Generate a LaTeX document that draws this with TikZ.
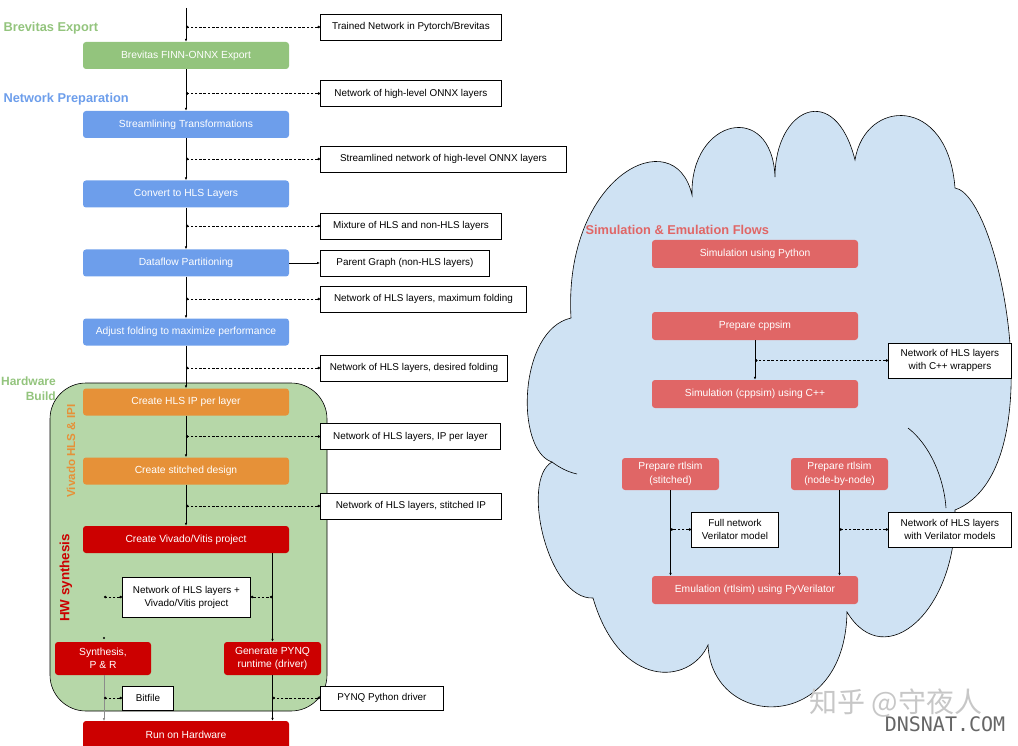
\documentclass[tikz,border=0pt]{standalone}
\usepackage{fontspec}
\setmainfont{Liberation Sans}
\newfontfamily\cjk{Noto Sans CJK SC}
\newfontfamily\wmfont{DejaVu Sans Mono}
\usetikzlibrary{arrows.meta}

\definecolor{expgreen}{HTML}{93C47D}
\definecolor{prepblue}{HTML}{6D9EEB}
\definecolor{hlsorange}{HTML}{E69138}
\definecolor{hwred}{HTML}{CC0000}
\definecolor{simred}{HTML}{E06666}
\definecolor{hwfill}{HTML}{B6D7A8}
\definecolor{cloudfill}{HTML}{CFE2F3}

\begin{document}
\begin{tikzpicture}[x=1pt, y=-1pt,
    stepbox/.style={rounded corners=3pt, text=white, inner sep=0pt,
        minimum width=206pt, minimum height=27pt, align=center,
        font=\fontsize{10.3}{13.5}\selectfont},
    note/.style={draw, fill=white, line width=0.9pt, inner sep=0pt,
        minimum height=26pt, align=center, font=\fontsize{9.9}{13}\selectfont},
    stage/.style={font=\bfseries\fontsize{12.8}{15}\selectfont},
    flow/.style={line width=0.7pt, -{Latex[length=3pt,width=2.6pt]}},
    link/.style={line width=0.6pt, dash pattern=on 2.5pt off 1.8pt,
        {Circle[length=2.6pt]}-{Circle[length=2.6pt]}}]
    \useasboundingbox (0,0) rectangle (1018,746);

    % hardware build area
    \draw[fill=hwfill, line width=0.6pt, rounded corners=36pt] (50,383) rectangle (327,711);

    % simulation cloud
    \draw[fill=cloudfill, line width=0.6pt]
        (571,318) .. controls (563,175) and (675,120) .. (692,195)
        .. controls (690,118) and (772,100) .. (775,177)
        .. controls (775,108) and (835,80) .. (855,160)
        .. controls (865,98) and (948,95) .. (955,188)
        .. controls (1000,195) and (1055,470) .. (955,510)
        .. controls (958,610) and (885,675) .. (847,612)
        .. controls (845,735) and (712,730) .. (708,645)
        .. controls (690,685) and (620,690) .. (593,598)
        .. controls (548,600) and (520,480) .. (552,462)
        .. controls (515,450) and (518,330) .. (571,318) -- cycle;
    \draw[line width=0.6pt] (908,428) .. controls (930,445) and (944,478) .. (946,508);
    \draw[line width=0.6pt] (552,462) .. controls (560,468) and (568,472) .. (577,474);

    % stage labels
    \node[stage, text=expgreen, anchor=west] (lexport) at (0,28) {Brevitas Export};
    \node[stage, text=prepblue, anchor=west] (lprep) at (0,99) {Network Preparation};
    \node[stage, text=expgreen, anchor=east, align=right, inner sep=0pt,
        font=\bfseries\fontsize{12}{15}\selectfont] (lbuild) at (56,389) {Hardware\\Build};
    \node[stage, text=hlsorange, rotate=90, font=\bfseries\fontsize{11.6}{14}\selectfont] (lhls) at (71,451) {Vivado HLS \& IPI};
    \node[stage, text=hwred, rotate=90, font=\bfseries\fontsize{13.4}{15}\selectfont] (lsynth) at (66,578) {HW synthesis};
    \node[stage, text=simred, anchor=west] (lsim) at (582,230) {Simulation \& Emulation Flows};

    % main flow
    \coordinate (start) at (186,8);
    \node[stepbox, fill=expgreen] (export) at (186,55.5) {Brevitas FINN-ONNX Export};
    \node[stepbox, fill=prepblue] (stream) at (186,124.5) {Streamlining Transformations};
    \node[stepbox, fill=prepblue] (tohls) at (186,194) {Convert to HLS Layers};
    \node[stepbox, fill=prepblue] (dataflow) at (186,263) {Dataflow Partitioning};
    \node[stepbox, fill=prepblue] (fold) at (186,332) {Adjust folding to maximize performance};
    \node[stepbox, fill=hlsorange] (hlsip) at (186,402) {Create HLS IP per layer};
    \node[stepbox, fill=hlsorange] (stitch) at (186,471) {Create stitched design};
    \node[stepbox, fill=hwred] (vivado) at (186,539.5) {Create Vivado/Vitis project};
    \node[stepbox, fill=hwred, minimum width=96pt, minimum height=33pt] (synth) at (103,658.5) {Synthesis,\\P \& R};
    \node[stepbox, fill=hwred, minimum width=97pt, minimum height=33pt] (pynq) at (272.5,658.5) {Generate PYNQ\\runtime (driver)};
    \node[stepbox, fill=hwred, minimum height=28pt] (run) at (186,735) {Run on Hardware};

    % intermediate networks
    \node[note, anchor=west, minimum width=181pt] (trained) at (320,27) {Trained Network in Pytorch/Brevitas};
    \node[note, anchor=west, minimum width=181pt] (onnx) at (320,93.5) {Network of high-level ONNX layers};
    \node[note, anchor=west, minimum width=246pt] (streamed) at (320,159) {Streamlined network of high-level ONNX layers};
    \node[note, anchor=west, minimum width=181pt] (mixture) at (320,226) {Mixture of HLS and non-HLS layers};
    \node[note, anchor=west, minimum width=169pt] (parent) at (320,263) {Parent Graph (non-HLS layers)};
    \node[note, anchor=west, minimum width=206pt] (maxfold) at (320,299) {Network of HLS layers, maximum folding};
    \node[note, anchor=west, minimum width=187pt] (desired) at (320,368) {Network of HLS layers, desired folding};
    \node[note, anchor=west, minimum width=180pt] (ipper) at (320,436.5) {Network of HLS layers, IP per layer};
    \node[note, anchor=west, minimum width=181pt] (stitchedip) at (320,506) {Network of HLS layers, stitched IP};
    \node[note, anchor=west, minimum width=128pt, minimum height=40pt] (vivproj) at (122,597) {Network of HLS layers +\\Vivado/Vitis project};
    \node[note, anchor=west, minimum width=51pt, minimum height=24pt] (bitfile) at (122,698) {Bitfile};
    \node[note, anchor=west, minimum width=123pt, minimum height=24pt] (pydriver) at (320,698) {PYNQ Python driver};

    \draw[flow] (start) -- (export);
    \draw[flow] (export) -- (stream);
    \draw[flow] (stream) -- (tohls);
    \draw[flow] (tohls) -- (dataflow);
    \draw[flow] (dataflow) -- (fold);
    \draw[flow] (fold) -- (hlsip);
    \draw[flow] (hlsip) -- (stitch);
    \draw[flow] (stitch) -- (vivado);
    \draw[flow] (vivado.south -| pynq.north) -- (pynq.north);
    \draw[flow] (pynq) -- (pynq.south |- run.north);
    \draw[flow, black!45, line width=0.5pt] (synth.south -| 104,0) -- (104,721);
    \draw[flow] (dataflow.east) -- (parent.west);
    \fill (104,638) circle (1.2pt);

    \draw[link] (trained.west) -- (trained.west -| start);
    \draw[link] (onnx.west) -- (onnx.west -| start);
    \draw[link] (streamed.west) -- (streamed.west -| start);
    \draw[link] (mixture.west) -- (mixture.west -| start);
    \draw[link] (maxfold.west) -- (maxfold.west -| start);
    \draw[link] (desired.west) -- (desired.west -| start);
    \draw[link] (ipper.west) -- (ipper.west -| start);
    \draw[link] (stitchedip.west) -- (stitchedip.west -| start);
    \draw[link] (vivproj.west) -- (104,597);
    \draw[link] (vivproj.east) -- (vivproj.east -| pynq.north);
    \draw[link] (bitfile.west) -- (104,698);
    \draw[link] (pydriver.west) -- (pydriver.west -| pynq.south);

    % simulation and emulation
    \node[stepbox, fill=simred, minimum height=28pt] (simpy) at (755,254) {Simulation using Python};
    \node[stepbox, fill=simred, minimum height=28pt] (prepcpp) at (755,326) {Prepare cppsim};
    \node[stepbox, fill=simred, minimum height=28pt] (cppsim) at (755,394) {Simulation (cppsim) using C++};
    \node[stepbox, fill=simred, minimum width=97pt, minimum height=32pt] (rtlstitch) at (670.5,474) {Prepare rtlsim\\(stitched)};
    \node[stepbox, fill=simred, minimum width=97pt, minimum height=32pt] (rtlnode) at (839.5,474) {Prepare rtlsim\\(node-by-node)};
    \node[stepbox, fill=simred, minimum height=28pt] (emu) at (755,590) {Emulation (rtlsim) using PyVerilator};
    \node[note, anchor=west, minimum width=123pt, minimum height=35pt] (cppwrap) at (888,360.5) {Network of HLS layers\\with C++ wrappers};
    \node[note, anchor=west, minimum width=87pt, minimum height=35pt] (fullnet) at (691,529.5) {Full network\\Verilator model};
    \node[note, anchor=west, minimum width=123pt, minimum height=35pt] (verimodels) at (888,529.5) {Network of HLS layers\\with Verilator models};

    \draw[flow] (prepcpp) -- (cppsim);
    \draw[flow] (rtlstitch) -- (rtlstitch.south |- emu.north);
    \draw[flow] (rtlnode) -- (rtlnode.south |- emu.north);
    \draw[link] (cppwrap.west) -- (cppwrap.west -| prepcpp.south);
    \draw[link] (fullnet.west) -- (fullnet.west -| rtlstitch.south);
    \draw[link] (verimodels.west) -- (verimodels.west -| rtlnode.south);

    % watermark
    \node[text=black!22, font=\cjk\fontsize{28}{30}\selectfont] (wmcn) at (896,703) {知乎 @守夜人};
    \node[text=black!60, font=\wmfont\fontsize{20}{22}\selectfont] (wmen) at (945,724) {DNSNAT.COM};
\end{tikzpicture}
\end{document}
